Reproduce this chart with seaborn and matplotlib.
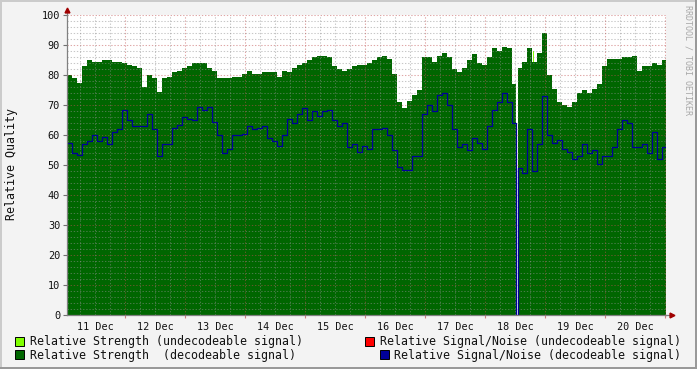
import numpy as np
import matplotlib
matplotlib.use("Agg")
import matplotlib.pyplot as plt
from matplotlib.patches import Rectangle
import seaborn as sns

# ---------------- data (hours since chart start = Dec 11, 00:48) ----------------
hours = [0, 2, 4, 6, 8, 10, 12, 14, 16, 18, 20, 22, 24, 26, 28, 30, 32, 34, 36, 38,
         40, 42, 44, 46, 48, 50, 52, 54, 56, 58, 60, 62, 64, 66, 68, 70, 72, 74, 76, 78,
         80, 82, 84, 86, 88, 90, 92, 94, 96, 98, 100, 102, 104, 106, 108, 110, 112, 114, 116, 118,
         120, 122, 124, 126, 128, 130, 132, 134, 136, 138, 140, 142, 144, 146, 148, 150, 152, 154, 156, 158,
         160, 162, 164, 166, 168, 170, 172, 174, 176, 178, 179.4, 180.4, 182, 184, 186, 188, 190, 192, 194, 196,
         198, 200, 202, 204, 206, 208, 210, 212, 214, 216, 218, 220, 222, 224, 226, 228, 230, 232, 234, 236,
         238, 239.6]

strength_decodeable = [80, 79, 77.5, 83, 85, 84.5, 84.5, 85, 85, 84.5, 84.5, 84, 83.5, 83, 82.5, 76, 80, 79, 74.5, 79,
                       79.5, 81, 81.5, 82.5, 83, 84, 84, 84, 82.5, 81.5, 79, 79, 79, 79.5, 79.5, 80.5, 81.5, 80.5, 80.5, 81,
                       81, 81, 79.5, 81.5, 81, 82.5, 83.5, 84, 85, 86, 86.5, 86.5, 86, 83, 82, 81.5, 82, 83, 83.5, 83.5,
                       84, 85, 86, 86.5, 85.5, 80.5, 71, 69, 71.5, 73.5, 75, 86, 86, 84.5, 86.5, 87.5, 86, 82, 81, 82.5,
                       85, 87, 84, 83.5, 86, 89, 88, 89.5, 89, 77, 0, 82.5, 84.5, 89, 84.5, 87.5, 94, 80, 75.5, 71,
                       70, 69.5, 71, 74, 75, 74, 75.5, 77, 83, 85.5, 85.5, 85.5, 86, 86, 86.5, 81.5, 83, 83, 84, 83.5,
                       85, 82]

snr_decodeable = [57.5, 54, 53.5, 57, 58, 60, 58, 59.5, 57, 61, 62, 68.5, 65, 63, 63, 63, 67, 62, 53, 57,
                  57, 62.5, 63.5, 66, 65.5, 65, 69.5, 68.5, 69.5, 64.5, 60, 54, 55.5, 60, 60, 60.5, 63, 62, 62.5, 63,
                  59, 58, 56.5, 60, 65.5, 64, 67, 69, 65, 68, 66.5, 68, 68.5, 65, 63, 64, 56, 57, 54.5, 56.5,
                  55.5, 62, 62, 62.5, 60, 55, 49.5, 48.5, 48.5, 53, 53, 67, 70, 68, 73.5, 74, 70, 62, 56, 57,
                  55, 59, 57.5, 55.5, 63, 68.5, 71, 74, 71, 64, 0, 49, 47.5, 62, 48, 57, 73, 60, 57.5, 58.5,
                  55.5, 54.5, 52, 53, 57, 54, 55, 50.5, 53, 53, 56, 62, 65, 64, 56, 56, 57, 54, 61, 52,
                  56, 60]

und_hours = [186.4]
strength_undecodeable = [88.0]

day_labels = ["11 Dec", "12 Dec", "13 Dec", "14 Dec", "15 Dec",
              "16 Dec", "17 Dec", "18 Dec", "19 Dec", "20 Dec"]

legend_labels = ["Relative Strength (undecodeable signal)",
                 "Relative Strength  (decodeable signal)",
                 "Relative Signal/Noise (undecodeable signal)",
                 "Relative Signal/Noise (decodeable signal)"]

CHART_START = 0.8   # chart starts 0.8 h after Dec 11 00:00
SPAN = 239.6

C_LIGHT = "#80FF00"
C_RED = "#FF0000"
C_DARK = "#006600"
C_BLUE = "#000099"

# ---------------- figure ----------------
W, H = 697, 369
plt.rcParams["font.family"] = ["DejaVu Sans Mono"]
fig = plt.figure(figsize=(W / 100, H / 100), dpi=100, facecolor="#F3F3F3")


def fx(px):
    return px / W


def fy(py):
    return 1 - py / H


ax = fig.add_axes([fx(67), fy(315), fx(666) - fx(67), fy(15) - fy(315)])
ax.set_facecolor("white")

t = np.array(hours) + CHART_START
tu = np.array(und_hours) + CHART_START

ax.bar(tu, strength_undecodeable, width=0.45, color=C_LIGHT, align="edge", zorder=1, lw=0)
ax.fill_between(t, 0, strength_decodeable, step="post", color=C_DARK, lw=0, zorder=2)

# grid
for v in np.arange(2, 100, 2):
    if v % 10 != 0:
        ax.axhline(v, color="#909090", alpha=0.5, lw=0.75, ls=(0, (1.3, 1.7)), zorder=3)
for v in np.arange(10, 101, 10):
    ax.axhline(v, color="#C05050", alpha=0.5, lw=0.75, ls=(0, (1.3, 1.7)), zorder=3)
for h in np.arange(6, 241, 6):
    if h % 24 != 0:
        ax.axvline(h, color="#909090", alpha=0.5, lw=0.75, ls=(0, (1.3, 1.7)), zorder=3)
    else:
        ax.axvline(h, color="#C05050", alpha=0.5, lw=0.75, ls=(0, (1.3, 1.7)), zorder=3)

sns.lineplot(x=t, y=snr_decodeable, ax=ax, color=C_BLUE, lw=0.9, drawstyle="steps-post",
             estimator=None, sort=False, zorder=4)

ax.set_xlim(CHART_START, CHART_START + SPAN)
ax.set_ylim(0, 100)

ax.set_xticks(np.arange(24, 241, 24))
ax.set_xticks(np.arange(12, 240, 24), minor=True)
ax.set_xticklabels([], minor=False)
ax.set_xticklabels(day_labels, minor=True)
ax.tick_params(axis="x", which="major", length=2, width=0.8, color="#D08080", labelbottom=False)
ax.tick_params(axis="x", which="minor", length=0, labelsize=7.3, pad=5, labelcolor="#111111")

ax.set_yticks(np.arange(0, 101, 10))
ax.tick_params(axis="y", which="major", length=3, width=0.8, color="#707070", labelsize=7.4, pad=2,
               labelcolor="#111111")

for s in ["top", "right"]:
    ax.spines[s].set_visible(False)
for s in ["left", "bottom"]:
    ax.spines[s].set_color("#808080")
    ax.spines[s].set_linewidth(0.9)
    ax.spines[s].set_zorder(5)

# axis extensions + arrows
ax.plot([CHART_START, CHART_START], [100, 101.8], color="#808080", lw=0.9, clip_on=False, zorder=5)
ax.plot([CHART_START], [101.6], marker="^", ms=3.5, color="#A00000", clip_on=False, zorder=6)
ax.plot([CHART_START + SPAN, CHART_START + SPAN + 2.2], [0, 0], color="#808080", lw=0.9, clip_on=False, zorder=5)
ax.plot([CHART_START + SPAN + 2.4], [0], marker=">", ms=3.5, color="#A00000", clip_on=False, zorder=6)

ax.set_xlabel("")
ax.set_ylabel("")

# titles / labels
fig.text(fx(12), fy(164), "Relative Quality", rotation=90, ha="center", va="center",
         fontsize=8.4, color="#111111")
fig.text(fx(688), fy(60), "RRDTOOL / TOBI OETIKER", rotation=270, ha="center", va="center",
         fontsize=6.0, color="#A8A8A8")

# legend
legend_items = [
    (15, 337, 30, 341.5, C_LIGHT, legend_labels[0]),
    (15, 350, 30, 355, C_DARK, legend_labels[1]),
    (365, 337, 380, 341.5, C_RED, legend_labels[2]),
    (380, 350, 394, 355, C_BLUE, legend_labels[3]),
]
for sx, sy, tx, ty, col, lab in legend_items:
    fig.patches.append(Rectangle((fx(sx), fy(sy + 9)), 9 / W, 9 / H, transform=fig.transFigure,
                                 facecolor=col, edgecolor="black", lw=0.7))
    fig.text(fx(tx), fy(ty), lab, ha="left", va="center", fontsize=8.4, color="#111111")

# 3D frame
fig.patches.append(Rectangle((0, 1 - 2 / H), 1, 2 / H, transform=fig.transFigure, color="#CBCBCB", lw=0))
fig.patches.append(Rectangle((0, 0), 2 / W, 1, transform=fig.transFigure, color="#CBCBCB", lw=0))
fig.patches.append(Rectangle((0, 0), 1, 2 / H, transform=fig.transFigure, color="#999999", lw=0))
fig.patches.append(Rectangle((1 - 2 / W, 0), 2 / W, 1, transform=fig.transFigure, color="#999999", lw=0))

fig.savefig("out.png", dpi=100, facecolor=fig.get_facecolor())
